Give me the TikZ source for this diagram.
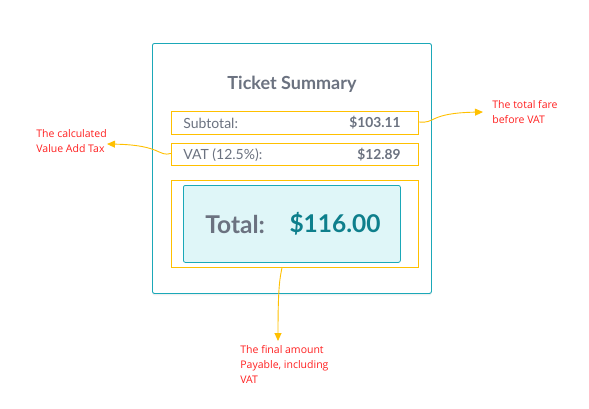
\documentclass[tikz,border=0pt]{standalone}
\usepackage{fontspec}
\setmainfont{Lato}
\newfontfamily\notefont{Open Sans}
\usetikzlibrary{positioning, arrows.meta, shadows}
\definecolor{cardteal}{HTML}{1BA8B8}
\definecolor{boxyellow}{HTML}{FFC000}
\definecolor{textgray}{HTML}{6B7280}
\definecolor{totalteal}{HTML}{0E7F8C}
\definecolor{totalfill}{HTML}{DFF6F8}
\definecolor{notered}{HTML}{FF1F1F}

\begin{document}
\begin{tikzpicture}[x=1pt, y=-1pt, thick]
    % Define block styles
    \tikzstyle{card} = [rectangle, draw=cardteal, line width=0.9pt, rounded corners=2pt, fill=white, drop shadow={shadow xshift=0pt, shadow yshift=-2pt, opacity=0.12}, anchor=north west]
    \tikzstyle{rowbox} = [rectangle, draw=boxyellow, line width=0.9pt, minimum width=247, anchor=north west, inner sep=0pt]
    \tikzstyle{totalbox} = [rectangle, draw=cardteal, line width=0.8pt, rounded corners=2pt, fill=totalfill, anchor=north west, inner sep=0pt]
    \tikzstyle{title} = [text=textgray, font=\fontsize{18}{21}\selectfont\bfseries]
    \tikzstyle{rowtext} = [text=textgray, font=\fontsize{14}{16}\selectfont, inner sep=0pt]
    \tikzstyle{amount} = [text=textgray, font=\fontsize{13.8}{16}\selectfont\bfseries, inner sep=0pt]
    \tikzstyle{bigtext} = [font=\fontsize{24.5}{28}\selectfont\bfseries, inner sep=0pt]
    \tikzstyle{note} = [text=notered, font=\notefont\fontsize{10.5}{14.8}\selectfont, align=left, anchor=north west, inner sep=0pt]
    \tikzstyle{pointer} = [draw=boxyellow, line width=0.9pt, -{Triangle[length=8pt, width=7pt]}]
    \useasboundingbox (0,0) rectangle (589,408);
    % Card and rows
    \node [card, minimum width=279, minimum height=250] (card) at (152,43) {};
    \node [title] (title) at (292,84) {Ticket Summary};
    \node [rowbox, minimum height=23] (sub) at (171,111) {};
    \node [rowtext, anchor=west] (sublbl) at (183,123) {Subtotal:};
    \node [amount, anchor=east] (subval) at (401,123) {\$103.11};
    \node [rowbox, minimum height=22] (vat) at (171,143) {};
    \node [rowtext, anchor=west] (vatlbl) at (183,155) {VAT (12.5\%):};
    \node [amount, anchor=east] (vatval) at (401,155) {\$12.89};
    \node [rowbox, minimum height=87] (totalrow) at (171,180) {};
    \node [totalbox, minimum width=217, minimum height=77] (total) at (183,185) {};
    \node [bigtext, text=textgray, anchor=west] (totallbl) at (205,224) {Total:};
    \node [bigtext, text=totalteal, anchor=east] (totalval) at (381,224) {\$116.00};

    % Notes
    \node [note] (farenote) at (492,100) {The total fare\\before VAT};
    \node [note] (vatnote) at (36,129) {The calculated\\Value Add Tax};
    \node [note] (totalnote) at (240,345) {The final amount\\Payable, including\\VAT};
    \coordinate (faretip) at (483,112);
    \coordinate (vattip) at (107,144);
    \coordinate (totaltip) at (278,341);

    % Connections
    \draw [pointer] ([yshift=1pt]sub.east) .. controls (436,124) and (428,113) .. (faretip);
    \draw [pointer] ([yshift=1pt]vat.west) .. controls (158,157) and (162,145) .. (vattip);
    \draw [pointer] ([xshift=-13pt]totalrow.south) .. controls (280,278) and (278,285) .. (totaltip);
\end{tikzpicture}
\end{document}
